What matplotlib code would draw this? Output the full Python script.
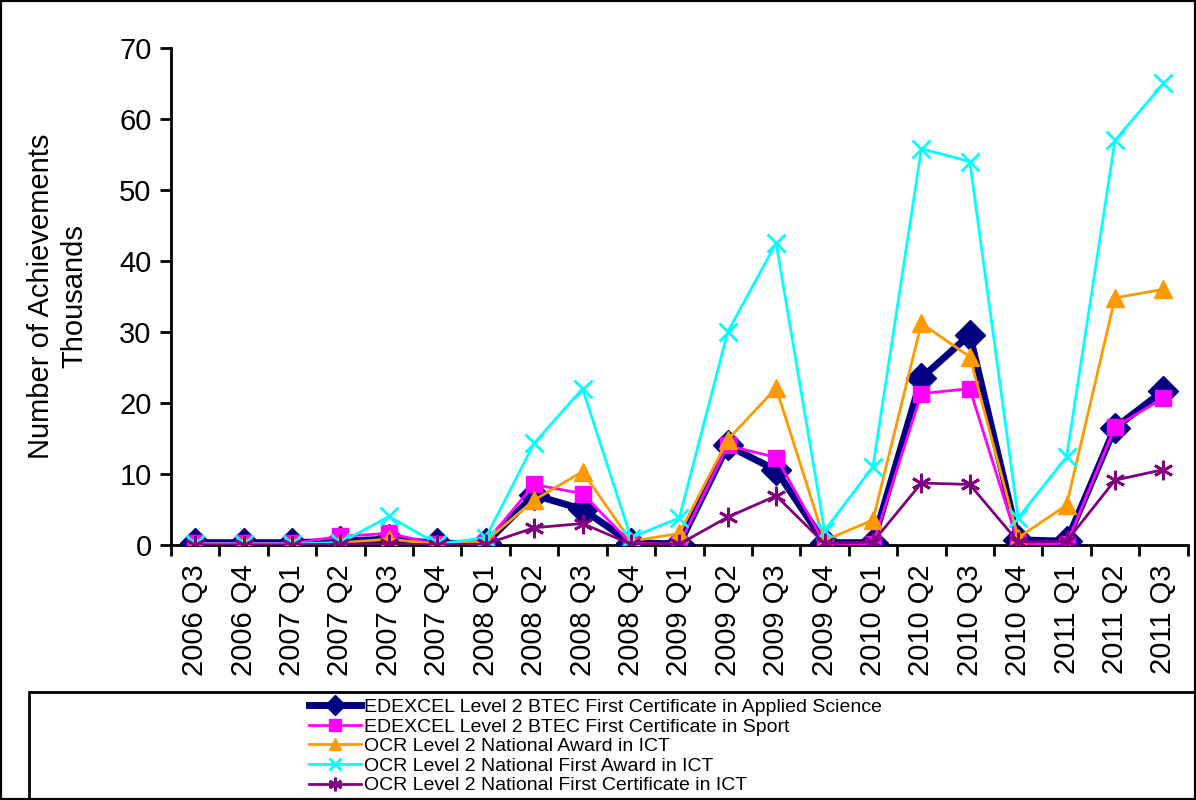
import numpy as np
import matplotlib.pyplot as plt
from matplotlib.patches import Rectangle

plt.rcParams['font.family'] = ['Liberation Sans', 'DejaVu Sans']

# Trimestres
trimestres = ['2006 Q3', '2006 Q4', '2007 Q1', '2007 Q2', '2007 Q3', '2007 Q4',
              '2008 Q1', '2008 Q2', '2008 Q3', '2008 Q4', '2009 Q1', '2009 Q2',
              '2009 Q3', '2009 Q4', '2010 Q1', '2010 Q2', '2010 Q3', '2010 Q4',
              '2011 Q1', '2011 Q2', '2011 Q3']

# Datos (miles)
applied_science = [0.3, 0.3, 0.3, 0.5, 0.8, 0.2, 0.2, 7.0, 5.0, 0.3, 0.1, 14.0,
                   10.5, 0.3, 0.3, 23.5, 29.6, 0.7, 0.5, 16.5, 21.7]
sport = [0.2, 0.2, 0.2, 1.2, 1.6, 0.1, 0.3, 8.5, 7.2, 0.2, 0.1, 14.0,
         12.3, 0.2, 0.1, 21.3, 22.0, 0.2, 0.1, 16.6, 20.7]
award_ict = [0.1, 0.1, 0.1, 0.3, 0.8, 0.1, 0.5, 6.3, 10.3, 0.5, 1.6, 14.8,
             22.1, 0.6, 3.5, 31.2, 26.5, 1.0, 5.6, 34.8, 36.0]
first_award_ict = [0.1, 0.1, 0.1, 0.3, 4.0, 0.1, 1.0, 14.3, 22.0, 1.0, 3.8, 30.0,
                   42.5, 2.0, 11.0, 55.8, 54.0, 3.8, 12.4, 57.0, 65.0]
first_cert_ict = [0.0, 0.0, 0.0, 0.1, 0.1, 0.0, 0.1, 2.4, 3.0, 0.1, 0.1, 3.9,
                  6.9, 0.2, 0.4, 8.7, 8.5, 0.4, 0.5, 9.1, 10.6]

x = np.arange(len(trimestres))

fig = plt.figure(figsize=(11.96, 8), dpi=100)
ax = fig.add_axes([0.143, 0.319, 0.850, 0.621])

ax.plot(x, applied_science, color='#000080', lw=5, marker='D', ms=15, zorder=3,
        label='EDEXCEL Level 2 BTEC First Certificate in Applied Science')
ax.plot(x, sport, color='#FF00FF', lw=2, marker='s', ms=12, zorder=4,
        label='EDEXCEL Level 2 BTEC First Certificate in Sport')
ax.plot(x, award_ict, color='#FF9900', lw=2, marker='^', ms=13, zorder=5,
        label='OCR Level 2 National Award in ICT')
ax.plot(x, first_award_ict, color='#00FFFF', lw=2, marker='x', ms=13, mew=2, zorder=6,
        label='OCR Level 2 National First Award in ICT')
ax.plot(x, first_cert_ict, color='#800080', lw=2, marker=(6, 2, 0), ms=14, mew=2, zorder=7,
        label='OCR Level 2 National First Certificate in ICT')

ax.set_xlim(-0.5, len(trimestres) - 0.5)
ax.set_ylim(0, 70)
ax.set_yticks(range(0, 71, 10))
ax.set_xticks(x)
ax.set_xticklabels(trimestres, rotation=90, fontsize=21)
ax.tick_params(axis='x', length=0, pad=14)
ax.set_xticks(np.arange(-0.5, len(trimestres)), minor=True)
ax.tick_params(axis='x', which='minor', direction='out', length=8, width=2)
ax.tick_params(axis='y', labelsize=21, direction='out', length=8, width=2, pad=6)
ax.set_ylabel('Number of Achievements\nThousands', fontsize=21, labelpad=22,
              linespacing=1.25)

for lado in ['top', 'right']:
    ax.spines[lado].set_visible(False)
ax.spines['left'].set_linewidth(2)
ax.spines['bottom'].set_linewidth(2)

# Recuadro de la leyenda y borde de la figura
fig.patches.append(Rectangle((0.024, -0.01), 1.0, 0.145, transform=fig.transFigure,
                             fill=False, lw=2, edgecolor='black'))
fig.patches.append(Rectangle((0.0, 0.0), 1.0, 1.0, transform=fig.transFigure,
                             fill=False, lw=3, edgecolor='black'))

fig.legend(loc='upper left', bbox_to_anchor=(0.25, 0.139), frameon=False,
           fontsize=14, handlelength=2.7, handletextpad=0.15, labelspacing=0.1,
           borderpad=0, markerscale=0.7)

plt.savefig('out.png', dpi=100)
